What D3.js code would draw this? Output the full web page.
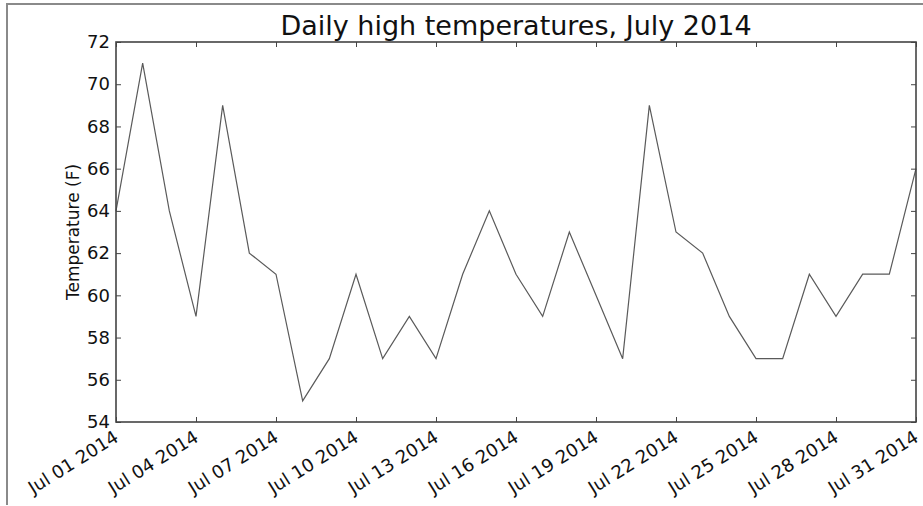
<!DOCTYPE html>
<html><head><meta charset="utf-8">
<script src="https://cdn.jsdelivr.net/npm/d3@7"></script>
<style>
body{margin:0;background:#fff;}
svg{display:block;}
text{font-family:"DejaVu Sans",sans-serif;fill:#111;}
</style></head>
<body>
<svg id="c" width="923" height="506"></svg>
<script>
const days = ["2014-07-01","2014-07-02","2014-07-03","2014-07-04","2014-07-05","2014-07-06","2014-07-07","2014-07-08","2014-07-09","2014-07-10","2014-07-11","2014-07-12","2014-07-13","2014-07-14","2014-07-15","2014-07-16","2014-07-17","2014-07-18","2014-07-19","2014-07-20","2014-07-21","2014-07-22","2014-07-23","2014-07-24","2014-07-25","2014-07-26","2014-07-27","2014-07-28","2014-07-29","2014-07-30","2014-07-31"];
const highs = [64,71,64,59,69,62,61,55,57,61,57,59,57,61,64,61,59,63,60,57,69,63,62,59,57,57,61,59,61,61,66];
const yTicks = [54,56,58,60,62,64,66,68,70,72];
const xTickDays = ["2014-07-01","2014-07-04","2014-07-07","2014-07-10","2014-07-13","2014-07-16","2014-07-19","2014-07-22","2014-07-25","2014-07-28","2014-07-31"];
const title = "Daily high temperatures, July 2014";
const yLabel = "Temperature (F)";

const parse = d3.utcParse("%Y-%m-%d");
const fmt = d3.utcFormat("%b %d %Y");
const data = days.map((d,i)=>({date:parse(d), v:highs[i]}));

const svg = d3.select("#c");
const m = {left:116, right:916, top:42, bottom:422};

// outer frame
svg.append("path").attr("d","M7,505 L7,4 L923,4").attr("fill","none").attr("stroke","#8a8a8a").attr("stroke-width",2);

const x = d3.scaleUtc().domain([parse(days[0]), parse(days[days.length-1])]).range([m.left, m.right]);
const y = d3.scaleLinear().domain([54,72]).range([m.bottom, m.top]);

const tickColor = "#444";
// bottom axis
const gx = svg.append("g").attr("transform",`translate(0,${m.bottom})`)
  .call(d3.axisBottom(x).tickValues(xTickDays.map(parse)).tickFormat(fmt).tickSizeInner(-5).tickSizeOuter(0));
gx.select(".domain").remove();
gx.selectAll("line").attr("stroke",tickColor);
gx.selectAll("text").attr("font-size",18).attr("text-anchor","end")
  .attr("transform","translate(-4,7) rotate(-32)").attr("dy","0.75em").attr("y",0);

// top ticks
const gxt = svg.append("g").attr("transform",`translate(0,${m.top})`)
  .call(d3.axisTop(x).tickValues(xTickDays.map(parse)).tickFormat("").tickSizeInner(-5).tickSizeOuter(0));
gxt.select(".domain").remove();
gxt.selectAll("line").attr("stroke",tickColor);

// left axis
const gy = svg.append("g").attr("transform",`translate(${m.left},0)`)
  .call(d3.axisLeft(y).tickValues(yTicks).tickFormat(d3.format("d")).tickSizeInner(-5).tickSizeOuter(0).tickPadding(6));
gy.select(".domain").remove();
gy.selectAll("line").attr("stroke",tickColor);
gy.selectAll("text").attr("font-size",18);

// right ticks
const gyr = svg.append("g").attr("transform",`translate(${m.right},0)`)
  .call(d3.axisRight(y).tickValues(yTicks).tickFormat("").tickSizeInner(-5).tickSizeOuter(0));
gyr.select(".domain").remove();
gyr.selectAll("line").attr("stroke",tickColor);

// line
const line = d3.line().x(d=>x(d.date)).y(d=>y(d.v));
svg.append("path").datum(data).attr("d",line).attr("fill","none").attr("stroke","#5a5a5a").attr("stroke-width",1.2);

// frame
svg.append("rect").attr("x",m.left).attr("y",m.top).attr("width",m.right-m.left).attr("height",m.bottom-m.top)
  .attr("fill","none").attr("stroke","#444").attr("stroke-width",1.6);

// title
svg.append("text").attr("x",(m.left+m.right)/2).attr("y",35).attr("text-anchor","middle").attr("font-size",27).text(title);

// y label
svg.append("text").attr("transform",`translate(79,${(m.top+m.bottom)/2}) rotate(-90)`).attr("text-anchor","middle")
  .attr("font-size",17).text(yLabel);
</script>
</body></html>
